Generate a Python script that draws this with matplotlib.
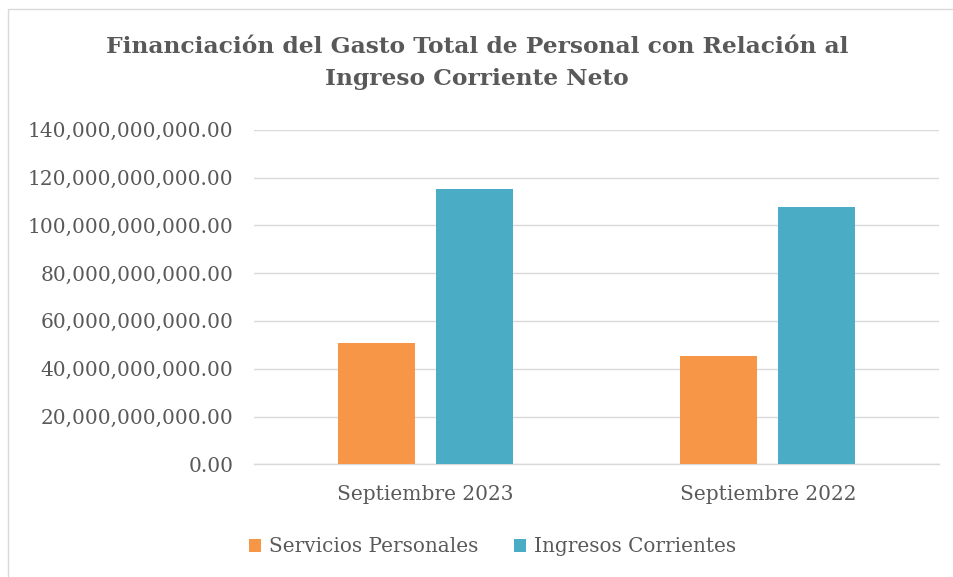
import matplotlib
matplotlib.use("Agg")
import matplotlib.pyplot as plt
import numpy as np
from matplotlib.patches import Rectangle
from matplotlib.ticker import FuncFormatter

categories = ["Septiembre 2023", "Septiembre 2022"]
series_names = ["Servicios Personales", "Ingresos Corrientes"]
servicios = [50.6e9, 45.4e9]
ingresos = [115.1e9, 107.5e9]
title = "Financiación del Gasto Total de Personal con Relación al\nIngreso Corriente Neto"

plt.rcParams['font.family'] = ['DejaVu Serif']
text_color = "#595959"

W, H = 954, 577
fig = plt.figure(figsize=(W / 100, H / 100), dpi=100)
ax = fig.add_axes([254 / W, 1 - 464.3 / H, (939 - 254) / W, (464.3 - 129.7) / H])

x = np.arange(len(categories))
bw = 0.225
off = 0.143
ax.bar(x - off, servicios, bw, color="#F79646", label=series_names[0], zorder=3)
ax.bar(x + off, ingresos, bw, color="#4BACC6", label=series_names[1], zorder=3)

ax.set_xlim(-0.5, 1.5)
ax.set_ylim(0, 140e9)
ax.set_yticks(np.arange(0, 140e9 + 1, 20e9))
ax.yaxis.set_major_formatter(FuncFormatter(lambda v, p: f"{v:,.2f}"))
ax.set_xticks(x)
ax.set_xticklabels(categories)
ax.grid(axis="y", color="#D9D9D9", linewidth=1.0, zorder=0)
for s in ["top", "right", "left"]:
    ax.spines[s].set_visible(False)
ax.spines["bottom"].set_color("#D9D9D9")
ax.spines["bottom"].set_linewidth(1.0)
ax.tick_params(axis="both", length=0, colors=text_color, labelsize=14.5)
ax.tick_params(axis="y", pad=15)
ax.tick_params(axis="x", pad=15)

fig.text(0.5, 1 - 63 / H, title, ha="center", va="center", fontsize=16.8,
         fontweight="bold", color=text_color, linespacing=1.6)

leg = fig.legend(loc="center", bbox_to_anchor=(0.516, 1 - 547 / H), ncol=2,
                 frameon=False, fontsize=14.4, labelcolor=text_color,
                 handlelength=0.6, handleheight=0.6, handletextpad=0.4,
                 columnspacing=1.8)

fig.patches.append(Rectangle((8 / W, -0.1), 1.2, 1 - 9 / H + 0.1,
                             transform=fig.transFigure, fill=False,
                             edgecolor="#D9D9D9", linewidth=1.0))

fig.savefig("out.png", dpi=100)
